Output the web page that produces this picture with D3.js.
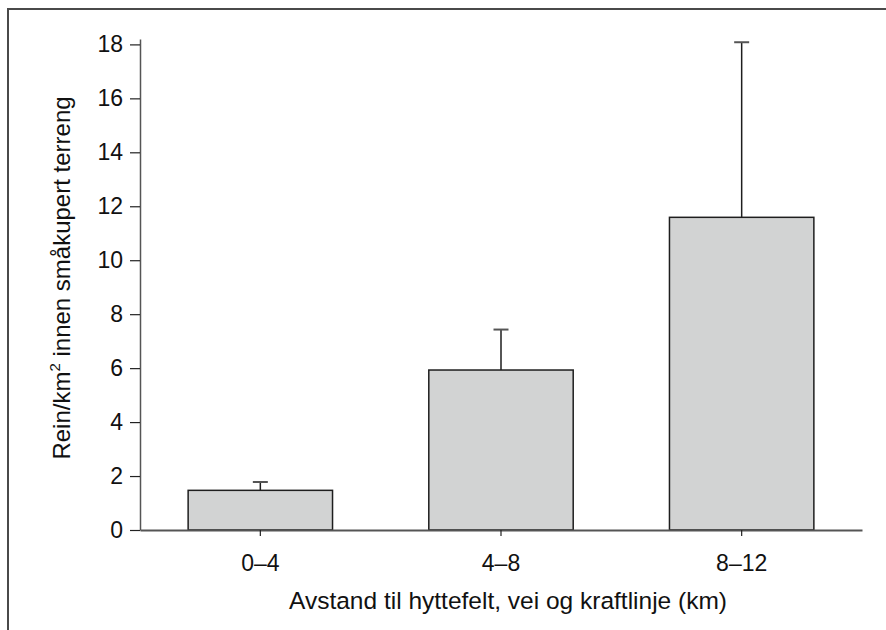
<!DOCTYPE html>
<html>
<head>
<meta charset="utf-8">
<script src="https://cdn.jsdelivr.net/npm/d3@7"></script>
<style>
  body { margin: 0; background: #fff; }
  svg { display: block; font-family: "Liberation Sans", Arial, Helvetica, sans-serif; }
</style>
</head>
<body>
<div id="chart"></div>
<script>
// ── Data ─────────────────────────────────────────────────────────────────────
const categories = ["0–4", "4–8", "8–12"];
const means = [1.47, 5.93, 11.59];
const errorTops = [1.78, 7.43, 18.08];
const yTicks = [0, 2, 4, 6, 8, 10, 12, 14, 16, 18];

const xTitle = "Avstand til hyttefelt, vei og kraftlinje (km)";

// ── Chart ────────────────────────────────────────────────────────────────────
const width = 886;
const height = 630;
const margin = { top: 39, right: 24, bottom: 100, left: 140 };
const inner = { w: width - margin.left - margin.right, h: height - margin.top - margin.bottom };
const font = "'Liberation Sans', Arial, Helvetica, sans-serif";

const svg = d3.select("#chart").append("svg")
  .attr("width", width).attr("height", height);

// Outer frame (right and bottom edges fall outside the picture).
svg.append("rect")
  .attr("x", 8).attr("y", 9)
  .attr("width", 920).attr("height", 700)
  .attr("fill", "none").attr("stroke", "#4a4a4a").attr("stroke-width", 2);

const g = svg.append("g").attr("transform", `translate(${margin.left},${margin.top})`);

const x = d3.scaleBand().domain(categories).range([0, inner.w]).paddingInner(0.4).paddingOuter(0.2);
const y = d3.scaleLinear().domain([0, 18.2]).range([inner.h, 0]);

// Bars.
g.selectAll("rect.bar").data(categories).join("rect")
  .attr("class", "bar")
  .attr("x", (d) => x(d))
  .attr("y", (d, i) => y(means[i]))
  .attr("width", x.bandwidth())
  .attr("height", (d, i) => y(0) - y(means[i]))
  .attr("fill", "#d2d3d3")
  .attr("stroke", "#1e1e1e").attr("stroke-width", 1.5);

// Error bars (upper only).
const cx = (d) => x(d) + x.bandwidth() / 2;
g.selectAll("line.err").data(categories).join("line")
  .attr("class", "err")
  .attr("x1", cx).attr("x2", cx)
  .attr("y1", (d, i) => y(means[i])).attr("y2", (d, i) => y(errorTops[i]))
  .attr("stroke", "#1e1e1e").attr("stroke-width", 1.5);

g.selectAll("line.cap").data(categories).join("line")
  .attr("class", "cap")
  .attr("x1", (d) => cx(d) - 7.5).attr("x2", (d) => cx(d) + 7.5)
  .attr("y1", (d, i) => y(errorTops[i])).attr("y2", (d, i) => y(errorTops[i]))
  .attr("stroke", "#555").attr("stroke-width", 2);

// Axes.
const yAxis = g.append("g")
  .call(d3.axisLeft(y).tickValues(yTicks).tickSize(10).tickPadding(7).tickSizeOuter(0));
yAxis.select(".domain").attr("stroke", "#555").attr("stroke-width", 1.5);
yAxis.selectAll(".tick line").attr("stroke", "#222").attr("stroke-width", 1.2);
yAxis.selectAll(".tick text").attr("font-size", "23px").attr("fill", "#111")
  .attr("font-family", font);

const xAxis = g.append("g").attr("transform", `translate(0,${inner.h})`)
  .call(d3.axisBottom(x).tickSize(6).tickPadding(19).tickSizeOuter(0));
xAxis.select(".domain").attr("stroke", "#555").attr("stroke-width", 2);
xAxis.selectAll(".tick line").attr("stroke", "#222").attr("stroke-width", 1.2);
xAxis.selectAll(".tick text").attr("font-size", "23px").attr("fill", "#111")
  .attr("font-family", font);

// Axis titles.
svg.append("text")
  .attr("x", 508)
  .attr("y", 609)
  .attr("text-anchor", "middle")
  .attr("font-size", "24.5px").attr("fill", "#111")
  .text(xTitle);

const yTitle = svg.append("text")
  .attr("transform", "translate(70,278) rotate(-90)")
  .attr("text-anchor", "middle")
  .attr("font-size", "24px").attr("fill", "#111");
yTitle.append("tspan").text("Rein/km");
yTitle.append("tspan").attr("dy", -10).attr("font-size", "15px").text("2");
yTitle.append("tspan").attr("dy", 10).text(" innen småkupert terreng");
</script>
</body>
</html>
